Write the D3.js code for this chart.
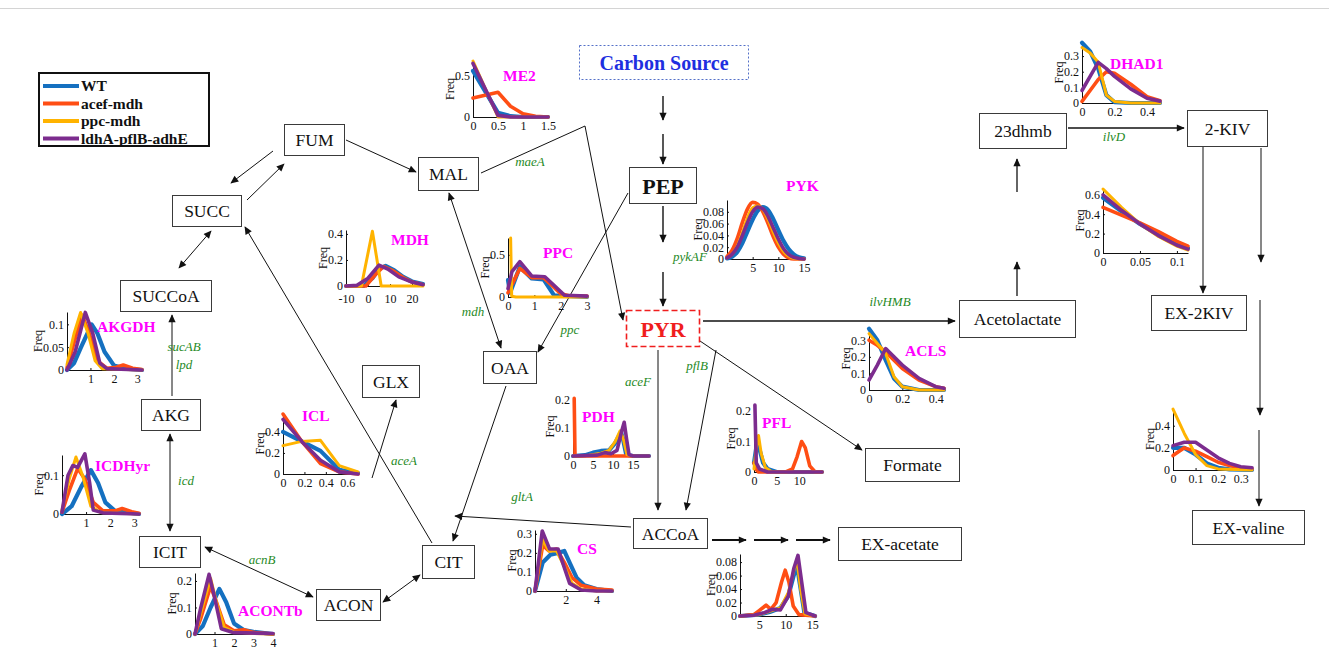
<!DOCTYPE html>
<html>
<head>
<meta charset="utf-8">
<script src="https://cdn.jsdelivr.net/npm/d3@7"></script>
<style>
  html, body { margin: 0; padding: 0; background: #fff; }
  svg { display: block; }
</style>
</head>
<body>
<svg id="chart" width="1329" height="669"></svg>
<script>
// ---------- strains (legend) ----------
const STRAINS = ["WT", "acef-mdh", "ppc-mdh", "ldhA-pflB-adhE"];
const STRAIN_COLORS = ["#1570c0", "#ff4e14", "#ffb300", "#7c2c8e"];
const STRAIN_WIDTHS = [4.2, 3.6, 3, 3.6];

// ---------- flux distributions: [flux, frequency] ----------
// ME2
const ME2_XTICKS = [0, 0.5, 1, 1.5];
const ME2_YTICKS = [0, 0.5];
const ME2_WT   = [[0,0.56],[0.5,0.05],[0.75,0.01],[1,0],[1.5,0]];
const ME2_ACEF = [[0,0.23],[0.5,0.3],[0.75,0.13],[1,0.04],[1.25,0.01],[1.5,0]];
const ME2_PPC  = [[0,0.68],[0.5,0],[1.5,0]];
const ME2_LDHA = [[0,0.65],[0.5,0.02],[0.75,0],[1.5,0]];

// MDH
const MDH_XTICKS = [-10, 0, 10, 20];
const MDH_YTICKS = [0, 0.2, 0.4];
const MDH_WT   = [[-10,0],[-2,0],[2,0.06],[5,0.13],[8,0.155],[12,0.12],[16,0.07],[20,0.035],[25,0.015]];
const MDH_ACEF = [[-10,0],[-1,0],[3,0.08],[7,0.15],[11,0.12],[16,0.065],[20,0.03],[25,0.01]];
const MDH_PPC  = [[-10,0],[-3,0],[2,0.42],[6,0],[25,0]];
const MDH_LDHA = [[-10,0],[-5,0.005],[0,0.06],[5,0.16],[9,0.13],[14,0.07],[20,0.03],[25,0.01]];

// PPC
const PPC_XTICKS = [0, 1, 2, 3];
const PPC_YTICKS = [0, 0.5];
const PPC_WT   = [[0,0.2],[0.08,0.05],[0.45,0.36],[0.9,0.22],[1.35,0.21],[1.75,0.02],[3,0]];
const PPC_ACEF = [[0,0.05],[0.45,0.34],[0.9,0.23],[1.35,0.23],[2,0.04],[2.4,0.01],[3,0.01]];
const PPC_PPC  = [[0.1,0.7],[0.14,0.01],[0.3,0],[3,0]];
const PPC_LDHA = [[0,0.1],[0.15,0.3],[0.45,0.42],[0.9,0.25],[1.4,0.24],[2.15,0.02],[3,0.01]];

// PYK
const PYK_XTICKS = [5, 10, 15];
const PYK_YTICKS = [0, 0.02, 0.04, 0.06, 0.08];
const PYK_WT   = [[0,0.001],[1,0.004],[2,0.012],[3,0.027],[4,0.047],[5,0.067],[6,0.082],[7,0.088],[8,0.083],[9,0.068],[10,0.049],[11,0.031],[12,0.017],[13,0.008],[14,0.003],[15,0.001]];
const PYK_ACEF = [[0,0.004],[1,0.015],[2,0.035],[3,0.062],[4,0.085],[5,0.096],[6,0.093],[7,0.08],[8,0.06],[9,0.038],[10,0.02],[11,0.008],[12,0.002],[13,0],[15,0]];
const PYK_PPC  = [[0,0.002],[1,0.008],[2,0.022],[3,0.045],[4,0.07],[5,0.087],[6,0.09],[7,0.084],[8,0.067],[9,0.046],[10,0.027],[11,0.013],[12,0.005],[13,0.001],[15,0]];
const PYK_LDHA = [[0,0.002],[1,0.008],[2,0.02],[3,0.04],[4,0.062],[5,0.08],[6,0.088],[7,0.085],[8,0.072],[9,0.053],[10,0.034],[11,0.018],[12,0.008],[13,0.003],[14,0.001],[15,0]];

// AKGDH
const AKGDH_XTICKS = [1, 2, 3];
const AKGDH_YTICKS = [0, 0.05, 0.1];
const AKGDH_WT   = [[0,0],[0.3,0.015],[0.6,0.05],[1.05,0.1],[1.3,0.08],[1.6,0.04],[2,0.01],[2.5,0.003],[3.2,0]];
const AKGDH_ACEF = [[0,0.005],[0.3,0.06],[0.65,0.12],[0.95,0.08],[1.3,0.02],[1.7,0.004],[2.1,0.006],[2.4,0.011],[2.8,0.004],[3.2,0.001]];
const AKGDH_PPC  = [[0,0.012],[0.3,0.08],[0.58,0.126],[0.9,0.08],[1.2,0.02],[1.5,0.003],[3.2,0]];
const AKGDH_LDHA = [[0,0],[0.35,0.04],[0.78,0.126],[1.1,0.08],[1.4,0.015],[1.7,0.003],[3.2,0]];

// ICDHyr
const ICDH_XTICKS = [1, 2, 3];
const ICDH_YTICKS = [0, 0.1];
const ICDH_WT   = [[0,0],[0.4,0.02],[0.8,0.07],[1.2,0.113],[1.5,0.08],[1.8,0.03],[2.2,0.008],[3.2,0]];
const ICDH_ACEF = [[0,0.005],[0.3,0.06],[0.65,0.117],[0.95,0.09],[1.3,0.03],[1.7,0.008],[2.2,0.008],[2.5,0.014],[2.9,0.006],[3.2,0.002]];
const ICDH_PPC  = [[0,0.01],[0.3,0.09],[0.58,0.147],[0.85,0.1],[1.2,0.02],[1.6,0.004],[3.2,0]];
const ICDH_LDHA = [[0,0.005],[0.25,0.1],[0.45,0.125],[0.65,0.12],[0.95,0.155],[1.15,0.08],[1.3,0.01],[1.7,0.003],[3.2,0]];

// ICL
const ICL_XTICKS = [0, 0.2, 0.4, 0.6];
const ICL_YTICKS = [0, 0.2, 0.4];
const ICL_WT   = [[0,0.4],[0.175,0.31],[0.35,0.22],[0.525,0.04],[0.7,0.01]];
const ICL_ACEF = [[0,0.57],[0.175,0.31],[0.35,0.1],[0.525,0.02],[0.7,0]];
const ICL_PPC  = [[0,0.27],[0.175,0.31],[0.35,0.32],[0.525,0.08],[0.7,0.02]];
const ICL_LDHA = [[0,0.52],[0.175,0.31],[0.35,0.13],[0.525,0.02],[0.7,0]];

// ACONTb
const ACON_XTICKS = [1, 2, 3, 4];
const ACON_YTICKS = [0, 0.1, 0.2];
const ACON_WT   = [[0,0],[0.4,0.03],[0.8,0.1],[1.25,0.17],[1.6,0.12],[2,0.04],[2.5,0.015],[3,0.008],[4,0]];
const ACON_ACEF = [[0,0],[0.3,0.06],[0.8,0.18],[1.1,0.12],[1.5,0.035],[2,0.012],[2.5,0.016],[3,0.006],[4,0]];
const ACON_PPC  = [[0,0],[0.3,0.08],[0.8,0.21],[1.1,0.12],[1.5,0.025],[2,0.008],[3,0.002],[4,0]];
const ACON_LDHA = [[0,0],[0.3,0.1],[0.72,0.225],[1.0,0.14],[1.35,0.02],[2,0.005],[4,0.002]];

// PDH
const PDH_XTICKS = [0, 5, 10, 15];
const PDH_YTICKS = [0, 0.1, 0.2];
const PDH_WT   = [[0,0],[3,0.003],[5,0.012],[7,0.018],[9,0.02],[10.5,0.045],[12,0.085],[12.5,0.06],[13.3,0.005],[15,0],[19,0]];
const PDH_ACEF = [[0.3,0.205],[0.5,0],[15,0]];
const PDH_PPC  = [[0,0],[4,0.003],[7,0.01],[9,0.02],[10.5,0.05],[11.8,0.09],[12.6,0.06],[13.5,0.005],[15,0],[19,0]];
const PDH_LDHA = [[0,0],[6,0.003],[8,0.012],[9.5,0.008],[11,0.02],[12.2,0.09],[12.8,0.12],[13.4,0.06],[14,0.005],[15,0],[19,0]];

// PFL
const PFL_XTICKS = [0, 5, 10];
const PFL_YTICKS = [0, 0.1, 0.2];
const PFL_WT   = [[0,0.03],[0.6,0.09],[1.3,0.07],[2,0.03],[3,0.01],[5,0],[15,0]];
const PFL_ACEF = [[0,0.03],[0.4,0.01],[1,0],[7,0],[8.5,0.01],[9.5,0.05],[10.5,0.1],[11.3,0.08],[12.3,0.02],[13.5,0],[15,0]];
const PFL_PPC  = [[0,0.01],[0.5,0.08],[1,0.12],[1.6,0.06],[2.5,0.015],[4,0],[15,0]];
const PFL_LDHA = [[0.2,0.22],[0.5,0.03],[1.2,0.01],[3,0],[15,0]];

// CS
const CS_XTICKS = [2, 4];
const CS_YTICKS = [0, 0.1, 0.2, 0.3];
const CS_WT   = [[0,0],[0.5,0.15],[1,0.19],[1.5,0.2],[1.9,0.21],[2.3,0.14],[2.7,0.07],[3.2,0.03],[4,0.01],[5,0]];
const CS_ACEF = [[0,0],[0.5,0.24],[0.9,0.21],[1.4,0.22],[1.9,0.15],[2.4,0.07],[3,0.03],[4,0.01],[5,0.005]];
const CS_PPC  = [[0,0],[0.5,0.27],[0.9,0.21],[1.4,0.21],[1.9,0.13],[2.4,0.04],[3,0.01],[4,0],[5,0]];
const CS_LDHA = [[0,0],[0.47,0.315],[0.95,0.22],[1.5,0.22],[2.25,0.04],[3,0.005],[4,0],[5,0]];

// acetate export
const EXAC_XTICKS = [5, 10, 15];
const EXAC_YTICKS = [0, 0.02, 0.04, 0.06, 0.08];
const EXAC_WT   = [[1.4,0],[5,0.002],[7,0.006],[9,0.012],[10.5,0.03],[11.5,0.06],[12.1,0.075],[12.8,0.04],[13.5,0.005],[15.5,0]];
const EXAC_ACEF = [[1.4,0],[4,0.002],[5,0.008],[6.3,0.016],[7.2,0.01],[8.2,0.02],[9.2,0.05],[9.9,0.068],[10.6,0.05],[11.4,0.015],[12.5,0.002],[15.5,0]];
const EXAC_PPC  = [[1.4,0],[5,0.002],[7,0.007],[9,0.012],[10.5,0.035],[11.6,0.07],[12.1,0.083],[12.8,0.04],[13.6,0.003],[15.5,0]];
const EXAC_LDHA = [[1.4,0],[4,0.001],[6,0.005],[7.5,0.01],[9,0.009],[10.5,0.03],[11.5,0.07],[12.3,0.09],[13,0.05],[13.8,0.005],[15.5,0]];

// DHAD1
const DHAD_XTICKS = [0, 0.2, 0.4];
const DHAD_YTICKS = [0, 0.1, 0.2, 0.3];
const DHAD_WT   = [[0,0.385],[0.05,0.33],[0.1,0.22],[0.15,0.05],[0.2,0.005],[0.3,0],[0.48,0]];
const DHAD_ACEF = [[0,0.01],[0.05,0.08],[0.1,0.15],[0.15,0.2],[0.2,0.19],[0.3,0.12],[0.4,0.04],[0.48,0.015]];
const DHAD_PPC  = [[0,0.355],[0.05,0.32],[0.1,0.26],[0.15,0.05],[0.2,0.01],[0.3,0],[0.48,0]];
const DHAD_LDHA = [[0,0.08],[0.05,0.17],[0.1,0.26],[0.15,0.22],[0.2,0.17],[0.3,0.09],[0.4,0.03],[0.48,0.012]];

// 2-KIV export
const KIV_XTICKS = [0, 0.05, 0.1];
const KIV_YTICKS = [0, 0.2, 0.4, 0.6];
const KIV_WT   = [[0,0.57],[0.025,0.43],[0.05,0.3],[0.075,0.19],[0.1,0.09],[0.115,0.05]];
const KIV_ACEF = [[0,0.47],[0.025,0.39],[0.05,0.31],[0.075,0.22],[0.1,0.12],[0.115,0.07]];
const KIV_PPC  = [[0,0.66],[0.025,0.47],[0.05,0.3],[0.075,0.17],[0.1,0.07],[0.115,0.03]];
const KIV_LDHA = [[0,0.6],[0.025,0.44],[0.05,0.3],[0.075,0.18],[0.1,0.08],[0.115,0.04]];

// valine export
const VAL_XTICKS = [0, 0.1, 0.2, 0.3];
const VAL_YTICKS = [0, 0.2, 0.4];
const VAL_WT   = [[0,0.2],[0.05,0.2],[0.1,0.14],[0.15,0.06],[0.2,0.02],[0.25,0.005],[0.35,0]];
const VAL_ACEF = [[0,0.13],[0.05,0.2],[0.1,0.17],[0.15,0.12],[0.2,0.07],[0.25,0.04],[0.3,0.02],[0.35,0.01]];
const VAL_PPC  = [[0,0.55],[0.05,0.33],[0.1,0.14],[0.15,0.04],[0.2,0.01],[0.35,0]];
const VAL_LDHA = [[0,0.22],[0.05,0.25],[0.1,0.25],[0.15,0.18],[0.2,0.11],[0.25,0.06],[0.3,0.03],[0.35,0.02]];

// ACLS
const ACLS_XTICKS = [0, 0.2, 0.4];
const ACLS_YTICKS = [0, 0.1, 0.2, 0.3];
const ACLS_WT   = [[0,0.37],[0.05,0.3],[0.1,0.18],[0.15,0.07],[0.2,0.02],[0.3,0],[0.45,0]];
const ACLS_ACEF = [[0,0.3],[0.05,0.27],[0.1,0.23],[0.15,0.18],[0.2,0.13],[0.3,0.06],[0.4,0.02],[0.45,0.01]];
const ACLS_PPC  = [[0,0.34],[0.05,0.28],[0.1,0.22],[0.15,0.08],[0.2,0.02],[0.3,0],[0.45,0]];
const ACLS_LDHA = [[0,0.06],[0.05,0.15],[0.1,0.25],[0.15,0.2],[0.2,0.15],[0.3,0.07],[0.4,0.02],[0.45,0.01]];

// ---------- layout of the small axes ----------
// box: [left, right, bottom, top] in px; tpos: title [x, baseline]
const PLOTS = [
  { title: "ME2",    series: [ME2_WT, ME2_ACEF, ME2_PPC, ME2_LDHA],     xd: [0, 1.5],    yd: [0, 0.68],  xt: ME2_XTICKS,   yt: ME2_YTICKS,   box: [473, 548, 117, 61],  tpos: [503, 81] },
  { title: "MDH",    series: [MDH_WT, MDH_ACEF, MDH_PPC, MDH_LDHA],     xd: [-10, 25],   yd: [0, 0.43],  xt: MDH_XTICKS,   yt: MDH_YTICKS,   box: [346, 423, 286, 230], tpos: [391, 245], xpad: 8 },
  { title: "PPC",    series: [PPC_WT, PPC_ACEF, PPC_PPC, PPC_LDHA],     xd: [0, 3],      yd: [0, 0.7],   xt: PPC_XTICKS,   yt: PPC_YTICKS,   box: [508, 587, 297, 238], tpos: [543, 258] },
  { title: "PYK",    series: [PYK_WT, PYK_ACEF, PYK_PPC, PYK_LDHA],     xd: [0, 15],     yd: [0, 0.1],   xt: PYK_XTICKS,   yt: PYK_YTICKS,   box: [727, 804, 259, 200], tpos: [786, 191], smooth: true },
  { title: "AKGDH",  series: [AKGDH_WT, AKGDH_ACEF, AKGDH_PPC, AKGDH_LDHA], xd: [0, 3.2], yd: [0, 0.127], xt: AKGDH_XTICKS, yt: AKGDH_YTICKS, box: [67, 142, 370, 312], tpos: [97, 332] },
  { title: "ICDHyr", series: [ICDH_WT, ICDH_ACEF, ICDH_PPC, ICDH_LDHA], xd: [0, 3.2],    yd: [0, 0.152], xt: ICDH_XTICKS,  yt: ICDH_YTICKS,  box: [62, 139, 514, 455],  tpos: [95, 471] },
  { title: "ICL",    series: [ICL_WT, ICL_ACEF, ICL_PPC, ICL_LDHA],     xd: [0, 0.7],    yd: [0, 0.58],  xt: ICL_XTICKS,   yt: ICL_YTICKS,   box: [283, 358, 474, 413], tpos: [302, 421] },
  { title: "ACONTb", series: [ACON_WT, ACON_ACEF, ACON_PPC, ACON_LDHA], xd: [0, 4],      yd: [0, 0.23],  xt: ACON_XTICKS,  yt: ACON_YTICKS,  box: [195, 273, 634, 573], tpos: [238, 616] },
  { title: "PDH",    series: [PDH_WT, PDH_ACEF, PDH_PPC, PDH_LDHA],     xd: [0, 19],     yd: [0, 0.21],  xt: PDH_XTICKS,   yt: PDH_YTICKS,   box: [573, 649, 456, 397], tpos: [582, 422] },
  { title: "PFL",    series: [PFL_WT, PFL_ACEF, PFL_PPC, PFL_LDHA],     xd: [0, 15],     yd: [0, 0.22],  xt: PFL_XTICKS,   yt: PFL_YTICKS,   box: [754, 822, 472, 405], tpos: [762, 428] },
  { title: "CS",     series: [CS_WT, CS_ACEF, CS_PPC, CS_LDHA],         xd: [0, 5],      yd: [0, 0.32],  xt: CS_XTICKS,    yt: CS_YTICKS,    box: [535, 612, 591, 530], tpos: [577, 554] },
  { title: "",       series: [EXAC_WT, EXAC_ACEF, EXAC_PPC, EXAC_LDHA], xd: [1.4, 15.5], yd: [0, 0.092], xt: EXAC_XTICKS,  yt: EXAC_YTICKS,  box: [740, 815, 616, 554], tpos: [0, 0] },
  { title: "DHAD1",  series: [DHAD_WT, DHAD_ACEF, DHAD_PPC, DHAD_LDHA], xd: [0, 0.48],   yd: [0, 0.39],  xt: DHAD_XTICKS,  yt: DHAD_YTICKS,  box: [1082, 1160, 103, 42], tpos: [1110, 69] },
  { title: "",       series: [KIV_WT, KIV_ACEF, KIV_PPC, KIV_LDHA],     xd: [0, 0.115],  yd: [0, 0.67],  xt: KIV_XTICKS,   yt: KIV_YTICKS,   box: [1103, 1188, 253, 188], tpos: [0, 0] },
  { title: "",       series: [VAL_WT, VAL_ACEF, VAL_PPC, VAL_LDHA],     xd: [0, 0.35],   yd: [0, 0.56],  xt: VAL_XTICKS,   yt: VAL_YTICKS,   box: [1173, 1252, 470, 408], tpos: [0, 0] },
  { title: "ACLS",   series: [ACLS_WT, ACLS_ACEF, ACLS_PPC, ACLS_LDHA], xd: [0, 0.45],   yd: [0, 0.38],  xt: ACLS_XTICKS,  yt: ACLS_YTICKS,  box: [869, 944, 390, 327], tpos: [905, 356] }
];

// ---------- pathway nodes ----------
const NODES = [
  { t: "FUM",          x: 284,  y: 124, w: 60,  h: 31 },
  { t: "MAL",          x: 418,  y: 157, w: 60,  h: 33 },
  { t: "SUCC",         x: 172,  y: 195, w: 69,  h: 31 },
  { t: "SUCCoA",       x: 120,  y: 280, w: 91,  h: 31 },
  { t: "AKG",          x: 141,  y: 399, w: 59,  h: 31 },
  { t: "ICIT",         x: 139,  y: 536, w: 61,  h: 31 },
  { t: "ACON",         x: 316,  y: 589, w: 64,  h: 31 },
  { t: "CIT",          x: 422,  y: 545, w: 52,  h: 33 },
  { t: "GLX",          x: 362,  y: 365, w: 57,  h: 32 },
  { t: "OAA",          x: 483,  y: 351, w: 53,  h: 32 },
  { t: "ACCoA",        x: 633,  y: 518, w: 74,  h: 30 },
  { t: "EX-acetate",   x: 838,  y: 527, w: 123, h: 33 },
  { t: "Formate",      x: 865,  y: 448, w: 94,  h: 33 },
  { t: "Acetolactate", x: 959,  y: 300, w: 116, h: 37 },
  { t: "23dhmb",       x: 979,  y: 113, w: 87,  h: 35 },
  { t: "2-KIV",        x: 1187, y: 110, w: 80,  h: 36 },
  { t: "EX-2KIV",      x: 1151, y: 295, w: 95,  h: 35 },
  { t: "EX-valine",    x: 1192, y: 510, w: 112, h: 34 }
];

// ---------- gene labels ----------
const GENES = [
  { t: "maeA",   x: 530,  y: 166 }, { t: "mdh",   x: 473, y: 316 },
  { t: "ppc",    x: 570,  y: 334 }, { t: "pykAF", x: 690, y: 261 },
  { t: "ilvHMB", x: 890,  y: 306 }, { t: "ilvD",  x: 1114, y: 141 },
  { t: "aceF",   x: 638,  y: 386 }, { t: "pflB",  x: 697, y: 370 },
  { t: "gltA",   x: 522,  y: 501 }, { t: "aceA",  x: 404, y: 465 },
  { t: "acnB",   x: 262,  y: 564 }, { t: "icd",   x: 186, y: 485 },
  { t: "sucAB",  x: 184,  y: 351 }, { t: "lpd",   x: 184, y: 369 }
];

// ---------- reactions (connectors) ----------
const ARROWS = [
  { p: [[663,96],[663,120]], w: 1.4 },
  { p: [[663,134],[663,164]], w: 1.4 },
  { p: [[663,206],[663,242]], w: 1.4 },
  { p: [[663,272],[663,306]], w: 1.4 },
  { p: [[481,173],[585,126],[623,320]] },
  { p: [[628,193],[538,352]] },
  { p: [[449,193],[501,348]], both: true },
  { p: [[346,140],[416,172]] },
  { p: [[273,151],[231,183]] },
  { p: [[247,200],[284,164]] },
  { p: [[211,231],[179,268]], both: true },
  { p: [[172,396],[172,315]] },
  { p: [[170,434],[170,531]], both: true },
  { p: [[205,547],[313,597]], both: true },
  { p: [[383,602],[420,575]], both: true },
  { p: [[432,543],[245,227]] },
  { p: [[372,478],[396,400]] },
  { p: [[506,386],[453,541]] },
  { p: [[631,527],[455,516]] },
  { p: [[658,350],[658,510]] },
  { p: [[716,350],[686,510]] },
  { p: [[700,341],[862,450]] },
  { p: [[703,321],[955,321]], w: 1.3 },
  { p: [[1017,296],[1017,262]], w: 1.3 },
  { p: [[1017,192],[1017,159]], w: 1.3 },
  { p: [[1068,128],[1184,128]], w: 1.3 },
  { p: [[1203,147],[1203,293]] },
  { p: [[1261,148],[1261,262]] },
  { p: [[1260,300],[1260,415]] },
  { p: [[1259,430],[1259,506]] },
  { p: [[712,540],[746,540]], w: 1.8 },
  { p: [[754,540],[788,540]], w: 1.8 },
  { p: [[796,540],[830,540]], w: 1.8 }
];

// ---------- drawing ----------
const SERIF = '"Liberation Serif","Times New Roman",Times,serif';
const svg = d3.select("#chart");

svg.append("line")
  .attr("x1", 0).attr("x2", 1329).attr("y1", 8.5).attr("y2", 8.5)
  .attr("stroke", "#d4d4d4").attr("stroke-width", 1);

const defs = svg.append("defs");
defs.append("marker")
  .attr("id", "head")
  .attr("viewBox", "0 0 10 10")
  .attr("refX", 9).attr("refY", 5)
  .attr("markerWidth", 9).attr("markerHeight", 8)
  .attr("markerUnits", "userSpaceOnUse")
  .attr("orient", "auto-start-reverse")
  .append("path").attr("d", "M0,0.5 L10,5 L0,9.5 Z").attr("fill", "#111");

const connector = d3.line();
const arrowG = svg.append("g");
ARROWS.forEach(a => {
  arrowG.append("path")
    .attr("d", connector(a.p))
    .attr("fill", "none")
    .attr("stroke", "#111")
    .attr("stroke-width", a.w || 1)
    .attr("marker-end", "url(#head)")
    .attr("marker-start", a.both ? "url(#head)" : null);
});

// nodes
const nodeG = svg.append("g");
NODES.forEach(n => {
  nodeG.append("rect")
    .attr("x", n.x + 0.5).attr("y", n.y + 0.5).attr("width", n.w).attr("height", n.h)
    .attr("fill", "#fff").attr("stroke", "#3a3a3a").attr("stroke-width", 1);
  nodeG.append("text")
    .attr("x", n.x + n.w / 2 + 0.5).attr("y", n.y + n.h / 2 + 0.5).attr("dy", "0.35em")
    .attr("text-anchor", "middle")
    .attr("font-family", SERIF).attr("font-size", 17.5).attr("fill", "#111")
    .text(n.t);
});

// Carbon Source
nodeG.append("rect")
  .attr("x", 579.5).attr("y", 45.5).attr("width", 169).attr("height", 34)
  .attr("fill", "#fff").attr("stroke", "#5470c8").attr("stroke-width", 1)
  .attr("stroke-dasharray", "2,2");
nodeG.append("text")
  .attr("x", 664).attr("y", 63).attr("dy", "0.35em").attr("text-anchor", "middle")
  .attr("font-family", SERIF).attr("font-size", 20).attr("font-weight", "bold")
  .attr("fill", "#1f2fe0").text("Carbon Source");

// PEP
nodeG.append("rect")
  .attr("x", 629.5).attr("y", 167.5).attr("width", 67).attr("height", 36)
  .attr("fill", "#fff").attr("stroke", "#3a3a3a").attr("stroke-width", 1);
nodeG.append("text")
  .attr("x", 663).attr("y", 186).attr("dy", "0.35em").attr("text-anchor", "middle")
  .attr("font-family", SERIF).attr("font-size", 22).attr("font-weight", "bold")
  .attr("fill", "#111").text("PEP");

// PYR
nodeG.append("rect")
  .attr("x", 626.5).attr("y", 310.5).attr("width", 73).attr("height", 36)
  .attr("fill", "#fff").attr("stroke", "#f01e1e").attr("stroke-width", 1.6)
  .attr("stroke-dasharray", "6,3");
nodeG.append("text")
  .attr("x", 663).attr("y", 329).attr("dy", "0.35em").attr("text-anchor", "middle")
  .attr("font-family", SERIF).attr("font-size", 22).attr("font-weight", "bold")
  .attr("fill", "#f01e1e").text("PYR");

// gene names
const geneG = svg.append("g");
GENES.forEach(g => {
  geneG.append("text")
    .attr("x", g.x).attr("y", g.y).attr("text-anchor", "middle")
    .attr("font-family", SERIF).attr("font-size", 13).attr("font-style", "italic")
    .attr("fill", "#1f8a1f").text(g.t);
});

// flux distribution panels
const tickFmt = v => String(+v.toFixed(4));
PLOTS.forEach(p => {
  const [L, R, B, T] = p.box;
  const x = d3.scaleLinear().domain(p.xd).range([L, R]);
  const y = d3.scaleLinear().domain(p.yd).range([B, T]);
  const g = svg.append("g");

  const line = d3.line().x(d => x(d[0])).y(d => y(d[1]))
    .curve(p.smooth ? d3.curveMonotoneX : d3.curveLinear);

  const xa = g.append("g").attr("transform", `translate(0,${B})`)
    .call(d3.axisBottom(x).tickValues(p.xt).tickFormat(tickFmt)
      .tickSizeInner(-2).tickSizeOuter(0).tickPadding(p.xpad || 4));
  const ya = g.append("g").attr("transform", `translate(${L},0)`)
    .call(d3.axisLeft(y).tickValues(p.yt).tickFormat(tickFmt)
      .tickSizeInner(-2).tickSizeOuter(0).tickPadding(3));
  [xa, ya].forEach(a => {
    a.select(".domain").attr("stroke", "#111").attr("stroke-width", 1);
    a.selectAll(".tick line").attr("stroke", "#111");
    a.selectAll("text").attr("font-family", SERIF).attr("font-size", 12).attr("fill", "#111");
  });

  p.series.forEach((s, i) => {
    g.append("path")
      .attr("d", line(s))
      .attr("fill", "none")
      .attr("stroke", STRAIN_COLORS[i])
      .attr("stroke-width", STRAIN_WIDTHS[i])
      .attr("stroke-linejoin", "round")
      .attr("stroke-linecap", "round");
  });

  const maxChars = d3.max(p.yt, v => tickFmt(v).length);
  const fx = L - maxChars * 5.8 - 2;
  g.append("text")
    .attr("transform", `translate(${fx},${(B + T) / 2}) rotate(-90)`)
    .attr("text-anchor", "middle")
    .attr("font-family", SERIF).attr("font-size", 12).attr("fill", "#111")
    .text("Freq");

  if (p.title) {
    g.append("text")
      .attr("x", p.tpos[0]).attr("y", p.tpos[1])
      .attr("font-family", SERIF).attr("font-size", 15.5).attr("font-weight", "bold")
      .attr("fill", "#ff00ff").text(p.title);
  }
});

// legend
const lg = svg.append("g");
lg.append("rect")
  .attr("x", 39).attr("y", 73).attr("width", 170).attr("height", 73)
  .attr("fill", "#fff").attr("stroke", "#111").attr("stroke-width", 2);
STRAINS.forEach((s, i) => {
  const yy = 86 + i * 17.5;
  lg.append("line")
    .attr("x1", 43).attr("x2", 79).attr("y1", yy).attr("y2", yy)
    .attr("stroke", STRAIN_COLORS[i]).attr("stroke-width", 4);
  lg.append("text")
    .attr("x", 81).attr("y", yy).attr("dy", "0.35em")
    .attr("font-family", SERIF).attr("font-size", 15.5).attr("font-weight", "bold")
    .attr("fill", "#111").text(s);
});
</script>
</body>
</html>
